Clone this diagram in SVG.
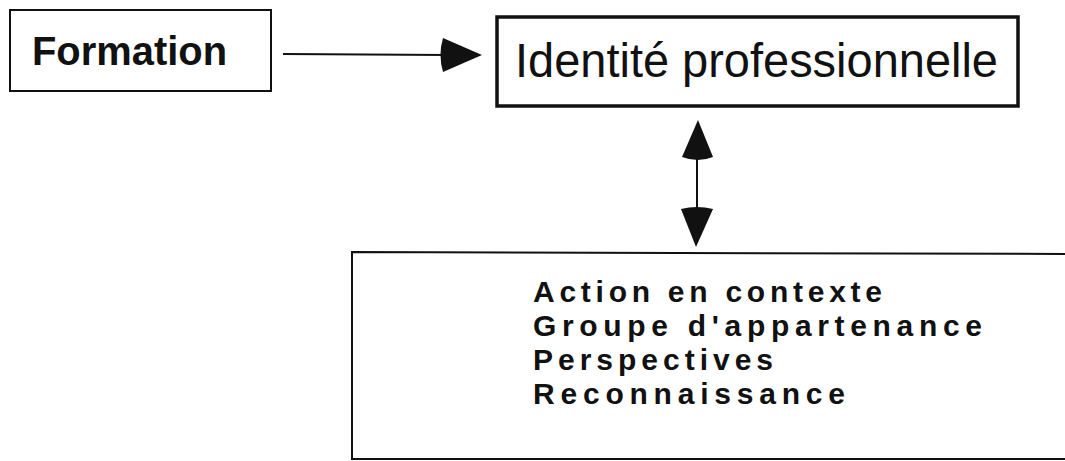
<svg xmlns="http://www.w3.org/2000/svg" width="1065" height="461" viewBox="0 0 1065 461">
<style>
.box{fill:#fff;stroke:#111;stroke-width:2}
.thick{fill:#fff;stroke:#111;stroke-width:3.5}
.t{font-family:"Liberation Sans",Arial,sans-serif;fill:#111}
.b{font-weight:bold}
.ln{stroke:#111;stroke-width:2;fill:none}
.hd{fill:#111;stroke:none}
</style>
<rect width="1065" height="461" fill="#fff"/>
<g id="node-formation">
<rect class="box" x="10" y="10" width="261" height="81"/>
<text class="t b" x="32" y="65" font-size="40" textLength="195" lengthAdjust="spacingAndGlyphs">Formation</text>
</g>
<g id="node-identite">
<rect class="thick" x="497" y="17" width="521" height="89"/>
<text class="t" x="515" y="77" font-size="48" textLength="483" lengthAdjust="spacingAndGlyphs">Identité professionnelle</text>
</g>
<g id="node-contexte">
<path class="box" d="M1066,254 L352,252 L352,459 L1066,459"/>
<text class="t b" font-size="30" x="533" y="302" textLength="349" lengthAdjust="spacing">Action en contexte</text>
<text class="t b" font-size="30" x="533" y="336" textLength="449" lengthAdjust="spacing">Groupe d'appartenance</text>
<text class="t b" font-size="30" x="533" y="370" textLength="240" lengthAdjust="spacing">Perspectives</text>
<text class="t b" font-size="30" x="533" y="404" textLength="312" lengthAdjust="spacing">Reconnaissance</text>
</g>
<g id="connectors">
<line class="ln" x1="283" y1="54" x2="448" y2="55"/>
<path class="hd" d="M482,55 L443,38 Q438,55 443,72 Z"/>
<line class="ln" x1="697" y1="155" x2="697" y2="212"/>
<path class="hd" d="M698,120 L682,157 Q698,163 713,157 Z"/>
<path class="hd" d="M681,209 Q697,205 713,209 L696,247 Z"/>
</g>
</svg>
